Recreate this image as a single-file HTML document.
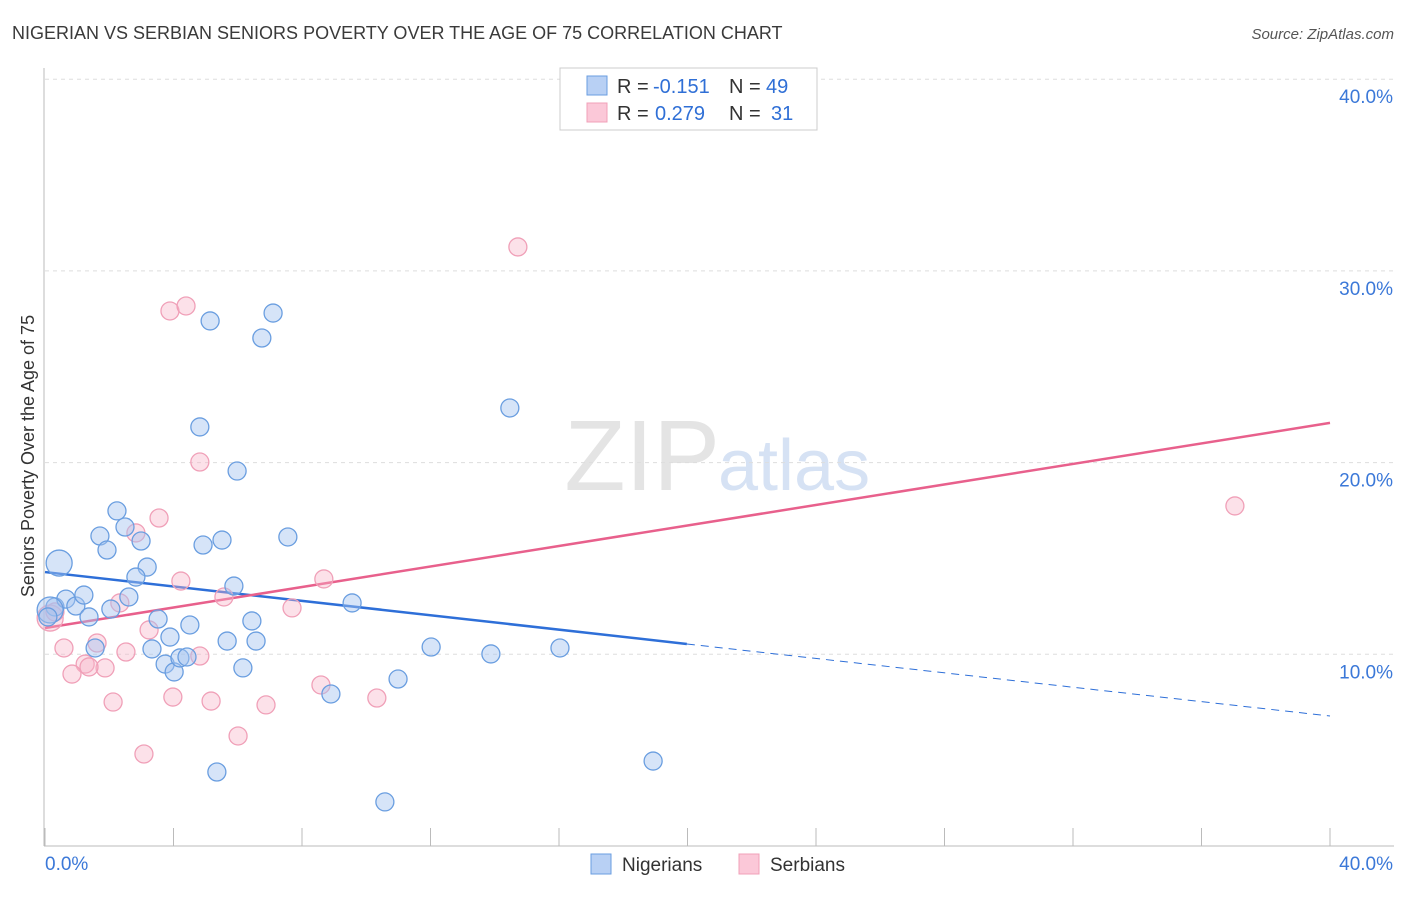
<!DOCTYPE html>
<html><head><meta charset="utf-8"><style>
body{margin:0;background:#fff;font-family:"Liberation Sans",sans-serif;}
svg text{font-family:"Liberation Sans",sans-serif;}
</style></head><body>
<svg id="chart" width="1406" height="892">
<text x="12" y="39" font-size="18" fill="#3a3a3a">NIGERIAN VS SERBIAN SENIORS POVERTY OVER THE AGE OF 75 CORRELATION CHART</text>
<text x="1394" y="39" font-size="15" fill="#555" font-style="italic" text-anchor="end">Source: ZipAtlas.com</text>
<text transform="translate(34,456) rotate(-90)" font-size="18" fill="#333" text-anchor="middle">Seniors Poverty Over the Age of 75</text>
<text x="720" y="490" font-size="100" fill="#e4e4e4" text-anchor="end" font-family="Liberation Serif">ZIP</text>
<text x="718" y="490" font-size="72" fill="#d6e2f4">atlas</text>
<g id="grid"></g><g id="axes"></g><g id="lines"></g><g id="pts"></g>
<g>
<rect x="560" y="68" width="257" height="62" fill="#fff" stroke="#ccc"/>
<rect x="587" y="76" width="20" height="19" fill="#b8d0f4" stroke="#6a9ee0"/>
<rect x="587" y="103" width="20" height="19" fill="#fbc8d8" stroke="#f0a0b8"/>
<text x="617" y="93" font-size="20" fill="#333">R =</text>
<text x="653" y="93" font-size="20" fill="#2f6fd6">-0.151</text>
<text x="729" y="93" font-size="20" fill="#333">N =</text>
<text x="766" y="93" font-size="20" fill="#2f6fd6">49</text>
<text x="617" y="120" font-size="20" fill="#333">R =</text>
<text x="655" y="120" font-size="20" fill="#2f6fd6">0.279</text>
<text x="729" y="120" font-size="20" fill="#333">N =</text>
<text x="771" y="120" font-size="20" fill="#2f6fd6">31</text>
</g>
<g>
<rect x="591" y="854" width="20" height="20" fill="#b8d0f4" stroke="#6a9ee0"/>
<text x="622" y="871" font-size="19" fill="#333">Nigerians</text>
<rect x="739" y="854" width="20" height="20" fill="#fbc8d8" stroke="#f0a0b8"/>
<text x="770" y="871" font-size="19" fill="#333">Serbians</text>
</g>
</svg>
<script>
const nigX=[0.44,2.24,2.49,1.71,1.93,2.99,3.18,2.83,0.31,0.65,0.96,1.21,1.37,2.61,2.05,3.52,3.89,3.33,3.74,4.02,4.20,4.42,4.51,5.88,5.67,6.44,6.57,6.16,4.92,5.51,7.56,4.82,5.98,5.14,7.10,6.75,9.56,12.02,13.88,16.03,14.47,10.99,8.90,5.35,10.58,18.93,1.56,0.16,0.09];
const nigY=[14.76,17.48,16.64,16.17,15.44,15.91,14.55,14.03,12.47,12.88,12.52,13.09,11.95,12.99,12.36,11.84,10.90,10.28,9.49,9.08,9.81,9.86,11.53,13.56,10.69,11.74,10.69,9.29,15.70,15.96,16.12,21.86,19.56,27.39,27.80,26.50,12.68,10.38,10.02,10.33,22.85,8.71,7.93,3.86,2.30,4.43,10.33,12.31,11.95];
const serX=[14.72,3.89,4.39,4.82,3.55,2.83,4.23,2.33,3.24,5.57,7.69,8.68,1.62,0.59,1.25,1.87,1.37,0.84,2.52,3.98,2.12,5.17,4.82,6.88,8.59,10.33,6.01,3.08,37.04,0.16,0.31];
const serY=[31.25,27.91,28.17,20.03,17.11,16.33,13.82,12.68,11.27,12.99,12.42,13.93,10.59,10.33,9.49,9.29,9.34,8.97,10.12,7.77,7.51,7.56,9.91,7.36,8.40,7.72,5.74,4.80,17.74,11.89,12.21];
const yTicks=[10,20,30,40];
const xTickVals=[0,4,8,12,16,20,24,28,32,36,40];
const nigTrend=[14.29,6.78]; const nigSolidEnd=19.98;
const serTrend=[11.37,22.07];
const NS="http://www.w3.org/2000/svg";
const sx=v=>45+v*1285/40, sy=v=>846-v*19.17;
function mk(tag,attrs,parent){const e=document.createElementNS(NS,tag);for(const k in attrs)e.setAttribute(k,attrs[k]);document.getElementById(parent).appendChild(e);return e;}
yTicks.forEach(t=>{
 const l=mk('line',{x1:45,x2:1394,y1:sy(t),y2:sy(t),stroke:'#ddd','stroke-dasharray':'4,4'},'grid');
 
 
 const tx=mk('text',{x:1393,y:sy(t)+24,'font-size':19,fill:'#3b78d8','text-anchor':'end'},'grid');
 tx.textContent=t.toFixed(1)+'%';
 
 
});
const ax=mk('line',{x1:44,x2:44,y1:68,y2:846,stroke:'#bbb'},'axes');


const bx=mk('line',{x1:44,x2:1394,y1:846,y2:846,stroke:'#bbb'},'axes');


xTickVals.forEach(t=>{
 const l=mk('line',{x1:sx(t),x2:sx(t),y1:828,y2:846,stroke:'#bbb'},'axes');
 
 
});
[[0,'start',45],[40,'end',1393]].forEach(([v,a,x])=>{
 const tx=mk('text',{x:x,y:870,'font-size':19,fill:'#3b78d8','text-anchor':a},'axes');
 tx.textContent=v.toFixed(1)+'%';
 
 
});
function pts(xs,ys,fill,stroke,name){
 xs.forEach((x,i)=>{
  const big=(x<0.5)&&(Math.abs(ys[i]-14.76)<0.01||Math.abs(ys[i]-11.89)<0.01||Math.abs(ys[i]-12.31)<0.01);
  const c=mk('circle',{cx:sx(x),cy:sy(ys[i]),r:big?13:9,fill:fill,stroke:stroke,'stroke-width':1.3},'pts');
  
  
 });
}
pts(serX,serY,'rgba(248,180,200,0.4)','#f0a0b8','serbian-point');
pts(nigX,nigY,'rgba(164,196,240,0.45)','#6a9ee0','nigerian-point');
const ny=x=>nigTrend[0]+(nigTrend[1]-nigTrend[0])*x/40;
let l1=mk('line',{x1:sx(0),y1:sy(ny(0)),x2:sx(nigSolidEnd),y2:sy(ny(nigSolidEnd)),stroke:'#2e6fd8','stroke-width':2.5},'lines');


let l2=mk('line',{x1:sx(nigSolidEnd),y1:sy(ny(nigSolidEnd)),x2:sx(40),y2:sy(ny(40)),stroke:'#2e6fd8','stroke-width':1,'stroke-dasharray':'8,6'},'lines');


let l3=mk('line',{x1:sx(0),y1:sy(serTrend[0]),x2:sx(40),y2:sy(serTrend[1]),stroke:'#e8608c','stroke-width':2.5},'lines');


</script>
</body></html>
